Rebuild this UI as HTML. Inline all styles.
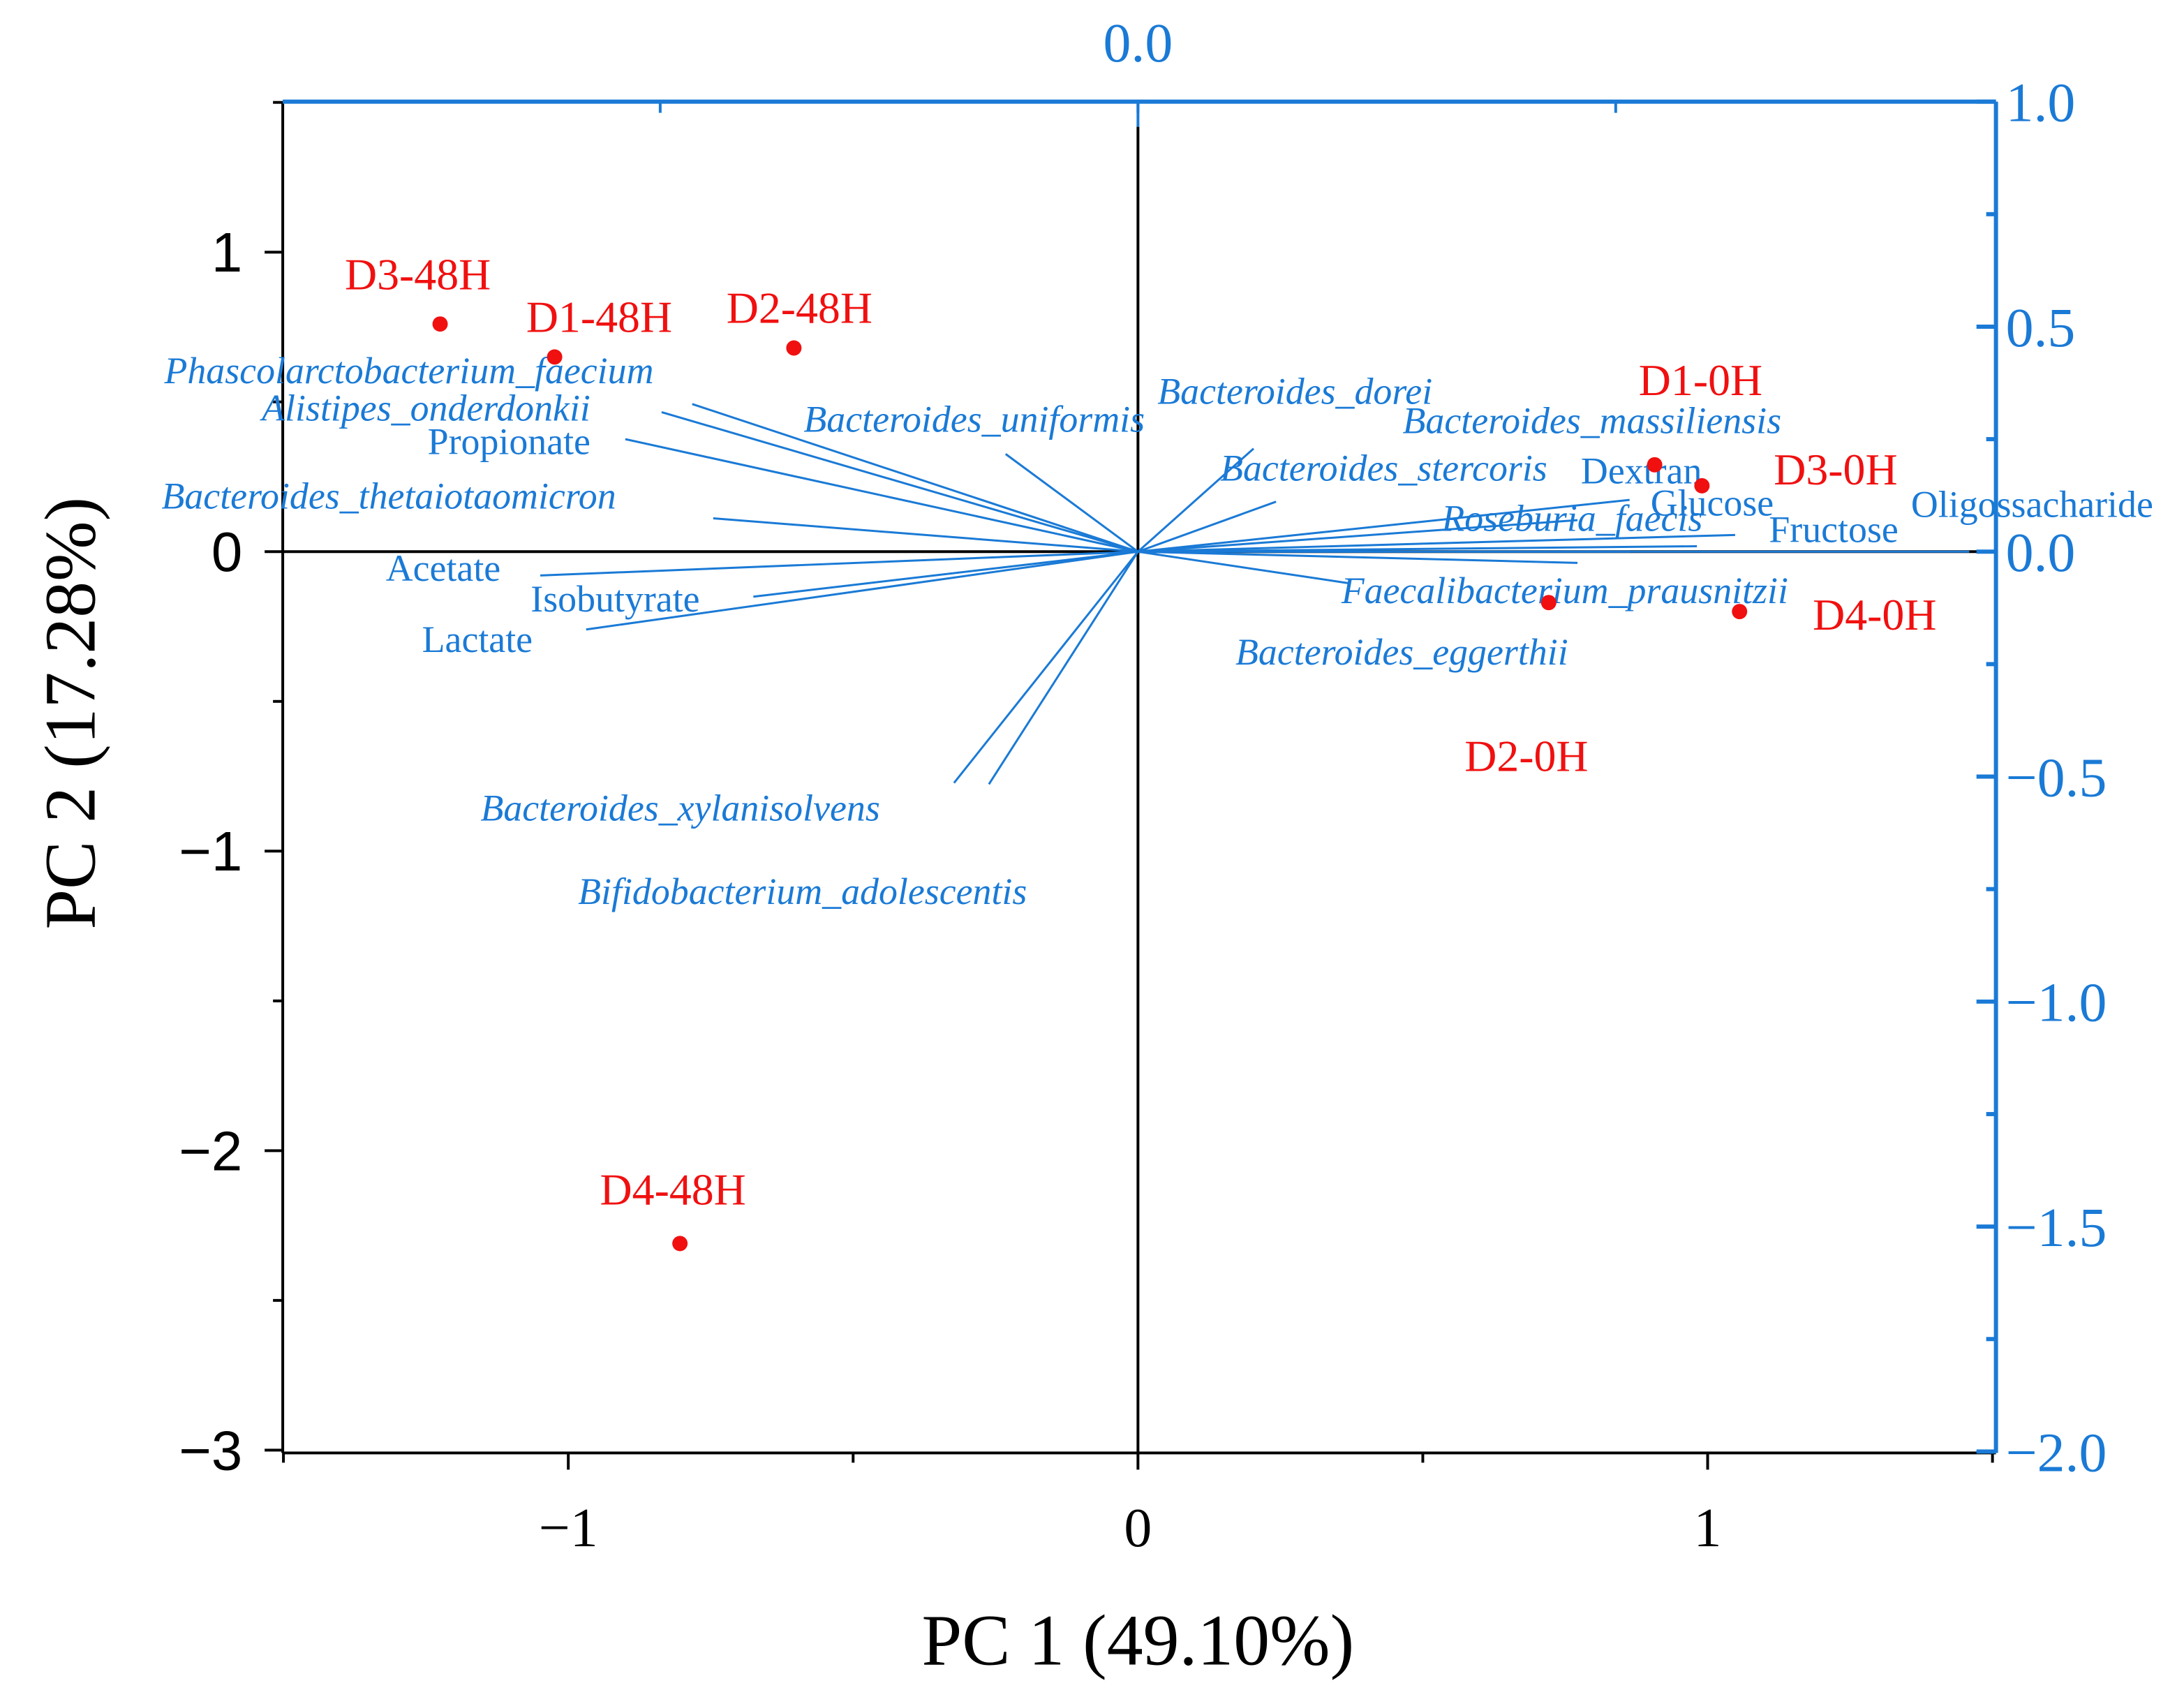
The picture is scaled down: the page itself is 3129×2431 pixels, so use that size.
<!DOCTYPE html>
<html><head><meta charset="utf-8"><style>
html,body{margin:0;padding:0;background:#fff;}
svg{display:block;}
</style></head><body>
<svg id="chart" width="3129" height="2431" viewBox="0 0 1568 1218.2" preserveAspectRatio="none" xmlns="http://www.w3.org/2000/svg"></svg>
<script>
// Scores (PC1, PC2) – left/bottom axes
const sampleNames = ["D3-48H","D1-48H","D2-48H","D4-48H","D1-0H","D3-0H","D4-0H","D2-0H"];
const samplePC1 = [-1.225,-1.024,-0.604,-0.804,0.907,0.99,1.056,0.721];
const samplePC2 = [0.76,0.65,0.68,-2.31,0.29,0.22,-0.20,-0.17];
const sampleLabelDx = [-16,32,4,-5,33,96,97,-16];
const sampleLabelDy = [-25,-18,-18,-28,-50,-1,13,121];
// Loadings – top/right axes
const loadingNames = ["Phascolarctobacterium_faecium","Alistipes_onderdonkii","Propionate","Bacteroides_thetaiotaomicron","Acetate","Isobutyrate","Lactate","Bacteroides_uniformis","Bacteroides_xylanisolvens","Bifidobacterium_adolescentis","Bacteroides_dorei","Bacteroides_stercoris","Bacteroides_massiliensis","Dextran","Roseburia_faecis","Glucose","Faecalibacterium_prausnitzii","Bacteroides_eggerthii","Fructose","Oligossacharide"];
const loadingX = [-0.933,-0.997,-1.073,-0.889,-1.251,-0.805,-1.155,-0.277,-0.385,-0.312,0.242,0.289,1.029,0.92,1.25,1.17,0.92,0.44,1.03,1.74];
const loadingY = [0.328,0.31,0.25,0.074,-0.053,-0.10,-0.173,0.217,-0.514,-0.517,0.229,0.111,0.115,0.07,0.037,0.012,-0.025,-0.07,0.0,0.0];
const loadingItalic = [1,1,0,1,0,0,0,1,1,1,1,1,1,0,1,0,1,1,0,0];
const labelPos = [[118,275],[188,302],[307,326],[116,365],[277,417],[381,439],[303,468],[577,310],[345,589],[415,649],[831,290],[876,345],[1007,311],[1135,347],[1035,381],[1185,370],[963,433],[887,477],[1270,389],[1372,371]];
const bottomTicks = [-1,0,1];
const bottomTickLabels = ["\u22121","0","1"];
const leftTicks = [1,0,-1,-2,-3];
const leftTickLabels = ["1","0","\u22121","\u22122","\u22123"];
const rightTicks = [1.0,0.5,0.0,-0.5,-1.0,-1.5,-2.0];
const rightTickLabels = ["1.0","0.5","0.0","\u22120.5","\u22121.0","\u22121.5","\u22122.0"];

const L=203,R=1433,T=73,B=1043;
const xS=v=>817+409*v, yS=v=>396-215*v;
const xT=v=>817+343*v, yR=v=>396-323*v;
const BLUE="#1a7ad6";
const svg=document.getElementById('chart');
const NS="http://www.w3.org/2000/svg";
function mk(tag,at,parent){const e=document.createElementNS(NS,tag);for(const k in at)e.setAttribute(k,at[k]);(parent||svg).appendChild(e);return e;}
function line(x1,y1,x2,y2,c,w,name){const e=mk('line',{x1,y1,x2,y2,stroke:c,'stroke-width':w});

return e;}
function text(x,y,s,at,name){const e=mk('text',Object.assign({x,y},at));e.textContent=s;

return e;}

// zero lines
line(xS(0),T+18,xS(0),B,"#000",2,'x-zero-line');
line(xS(0),T,xS(0),T+18,BLUE,2,'x-zero-line-top');
line(L,yS(0),R,yS(0),"#000",2,'y-zero-line');
// axes
line(L,T,L,B,"#000",2,'left-axis');
line(L,B,R,B,"#000",2,'bottom-axis');
line(L,T,R,T,BLUE,3,'top-axis');
line(R,T,R,B,BLUE,3,'right-axis');

// bottom ticks
for(let v=-1.5;v<=1.51;v+=0.5){const maj=Math.abs(v-Math.round(v))<1e-6;line(xS(v),B,xS(v),B+(maj?12:7),"#000",2,'x-tick');}
bottomTicks.forEach((v,i)=>text(xS(v),1110,bottomTickLabels[i],{'font-family':'Liberation Serif, serif','font-size':40,'text-anchor':'middle'},'x-tick-label'));
// left ticks
for(let v=-3;v<=1.51;v+=0.5){const maj=Math.abs(v-Math.round(v))<1e-6;line(L,yS(v),L-(maj?13:7),yS(v),"#000",2,'y-tick');}
leftTicks.forEach((v,i)=>text(174,yS(v)+14,leftTickLabels[i],{'font-family':'Liberation Sans, sans-serif','font-size':40,'text-anchor':'end'},'y-tick-label'));
// top ticks
[-1,0,1].forEach(v=>line(xT(v),T,xT(v),T+8,BLUE,2,'top-tick'));
text(817,44,"0.0",{'font-family':'Liberation Serif, serif','font-size':40,'text-anchor':'middle',fill:BLUE},'top-tick-label');
// right ticks
for(let v=-2;v<=1.01;v+=0.25){const maj=Math.abs(v*2-Math.round(v*2))<1e-6;line(R,yR(v),R-(maj?14:7),yR(v),BLUE,3,'right-tick');}
rightTicks.forEach((v,i)=>text(1440,yR(v)+14,rightTickLabels[i],{'font-family':'Liberation Serif, serif','font-size':40,fill:BLUE},'right-tick-label'));

// axis titles
text(817,1195,"PC 1 (49.10%)",{'font-family':'Liberation Serif, serif','font-size':52,'text-anchor':'middle'},'x-axis-title');
text(0,0,"PC 2 (17.28%)",{'font-family':'Liberation Serif, serif','font-size':52,'text-anchor':'middle',transform:'translate(68,512) rotate(-90)'},'y-axis-title');

// loading vectors
loadingNames.forEach((n,i)=>{
  line(xT(0),yR(0),xT(loadingX[i]),yR(loadingY[i]),BLUE,1.5,'loading-vector');
  text(labelPos[i][0],labelPos[i][1],n,{'font-family':'Liberation Serif, serif','font-size':27,fill:BLUE,'font-style':loadingItalic[i]?'italic':'normal'},'loading-label');
});

// sample points
sampleNames.forEach((n,i)=>{
  const cx=xS(samplePC1[i]),cy=yS(samplePC2[i]);
  const c=mk('circle',{cx,cy,r:5.5,fill:'#f01010'});
  
  
  text(cx+sampleLabelDx[i],cy+sampleLabelDy[i],n,{'font-family':'Liberation Serif, serif','font-size':32,fill:'#f01010','text-anchor':'middle'},'sample-label');
});
</script>
</body></html>
